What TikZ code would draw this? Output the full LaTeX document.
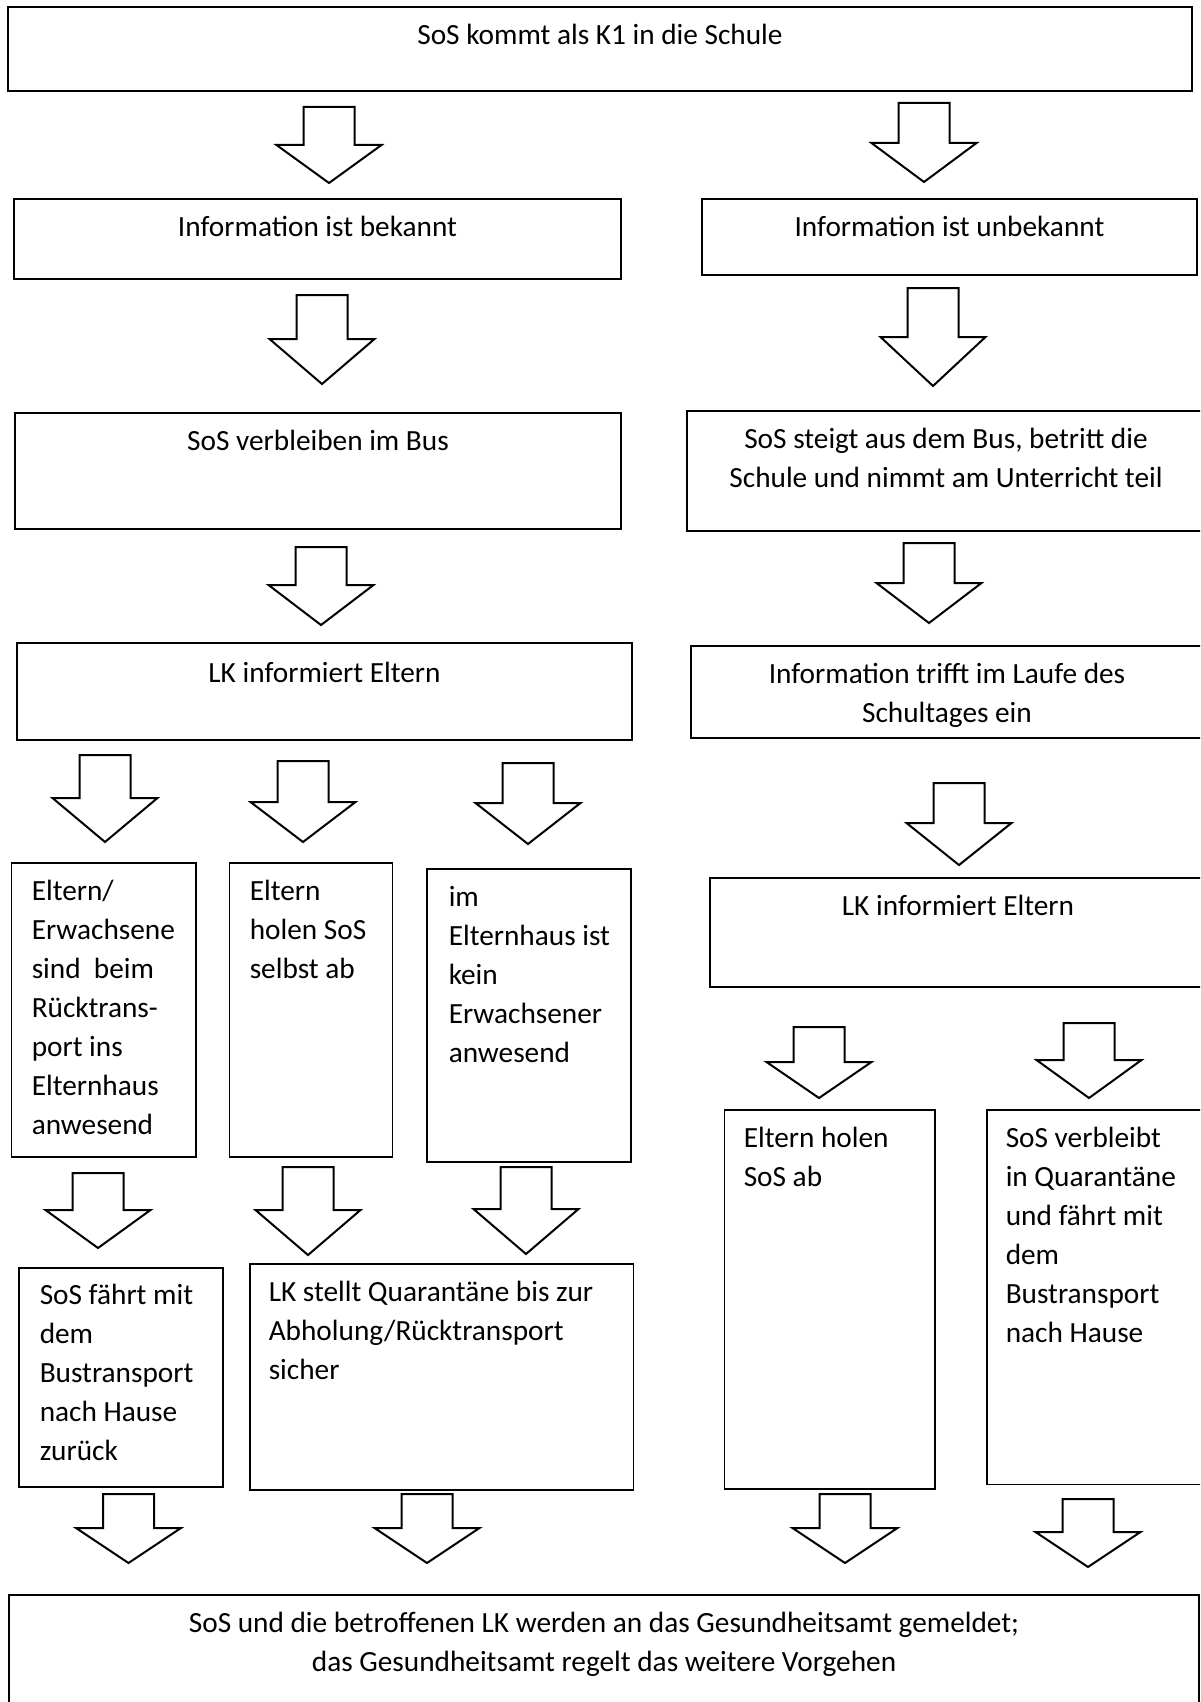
\documentclass[tikz,border=0pt]{standalone}
\usepackage{fontspec}
\setmainfont{Carlito}
\usetikzlibrary{fit,calc}
\tikzset{
  box/.style={draw=black, line width=0.65pt, inner sep=0pt},
  txt/.style={inner sep=0pt, font=\fontsize{14.65}{19.5}\selectfont},
  ctxt/.style={txt, align=center, anchor=north},
  ltxt/.style={txt, align=left, anchor=north west},
  barrow/.style={draw=black, line width=1pt, line join=miter, fill=white}
}
\newcommand\blockarrow[4]{%
  \draw[barrow] ({#1-25.5},{#2}) -- ({#1+25.5},{#2}) -- ({#1+25.5},{#3}) -- ({#1+52.5},{#3})
    -- ({#1},{#4}) -- ({#1-52.5},{#3}) -- ({#1-25.5},{#3}) -- cycle;}
\begin{document}
\begin{tikzpicture}[x=0.5pt,y=-0.5pt]
\useasboundingbox (0,0) rectangle (1200,1702);
\clip (0,0) rectangle (1200,1702);
\fill[white] (0,0) rectangle (1200,1702);
% boxes
\node[box, fit={(8,7) (1192,91)}] (top) {};
\node[box, fit={(14,199) (621,279)}] (info1) {};
\node[box, fit={(702,199) (1197,275)}] (info2) {};
\node[box, fit={(15,413) (621,529)}] (bus1) {};
\node[box, fit={(687,411) (1205,531)}] (bus2) {};
\node[box, fit={(17,643) (632,740)}] (lk1) {};
\node[box, fit={(691,646) (1203,738)}] (trifft) {};
\node[box, fit={(11.5,863) (196,1157)}] (boxA) {};
\node[box, fit={(229.5,863) (392.5,1157)}] (boxB) {};
\node[box, fit={(427,869) (631,1162)}] (boxC) {};
\node[box, fit={(710,878) (1206,987)}] (lk2) {};
\node[box, fit={(724.5,1110) (935,1489)}] (holen) {};
\node[box, fit={(987,1110) (1210,1484.5)}] (verbleibt) {};
\node[box, fit={(19,1268) (223,1487)}] (faehrt) {};
\node[box, fit={(250,1264) (633.5,1490)}] (stellt) {};
\node[box, fit={(9,1595) (1199,1730)}] (final) {};
% texts
\node[ctxt] (ttop) at ($(top.north)+(0,10.7)$) {\strut SoS kommt als K1 in die Schule};
\node[ctxt] (tinfo1) at ($(info1.north)+(0,10.7)$) {\strut Information ist bekannt};
\node[ctxt] (tinfo2) at ($(info2.north)+(0,10.7)$) {\strut Information ist unbekannt};
\node[ctxt] (tbus1) at ($(bus1.north)+(0,10.7)$) {\strut SoS verbleiben im Bus};
\node[ctxt] (tbus2) at ($(bus2.north)+(0,10.7)$) {\strut SoS steigt aus dem Bus, betritt die\\Schule und nimmt am Unterricht teil};
\node[ctxt] (tlk1) at ($(lk1.north)+(0,12)$) {\strut LK informiert Eltern};
\node[ctxt] (ttrifft) at ($(trifft.north)+(0,10.7)$) {\strut Information trifft im Laufe des\\Schultages ein};
\node[ltxt] (tA) at ($(boxA.north west)+(20.5,10.7)$) {\strut Eltern/\\Erwachsene\\sind\ \ beim\\Rücktrans-\\port ins\\Elternhaus\\anwesend};
\node[ltxt] (tB) at ($(boxB.north west)+(20.5,10.7)$) {\strut Eltern\\holen SoS\\selbst ab};
\node[ltxt] (tC) at ($(boxC.north west)+(22,10.7)$) {\strut im\\Elternhaus ist\\kein\\Erwachsener\\anwesend};
\node[ctxt] (tlk2) at ($(lk2.north)+(0,10.7)$) {\strut LK informiert Eltern};
\node[ltxt] (tholen) at ($(holen.north west)+(19.5,10.7)$) {\strut Eltern holen\\SoS ab};
\node[ltxt] (tverbl) at ($(verbleibt.north west)+(19,10.7)$) {\strut SoS verbleibt\\in Quarantäne\\und fährt mit\\dem\\Bustransport\\nach Hause};
\node[ltxt] (tfaehrt) at ($(faehrt.north west)+(21,9)$) {\strut SoS fährt mit\\dem\\Bustransport\\nach Hause\\zurück};
\node[ltxt] (tstellt) at ($(stellt.north west)+(19,10.7)$) {\strut LK stellt Quarantäne bis zur\\Abholung/Rücktransport\\sicher};
\node[ctxt] (tfinal) at ($(final.north)+(0,10.7)$) {\strut SoS und die betroffenen LK werden an das Gesundheitsamt gemeldet;\\das Gesundheitsamt regelt das weitere Vorgehen};
% block arrows
\blockarrow{329}{107}{145}{183}
\blockarrow{924}{103}{143}{182}
\blockarrow{322}{295}{339}{384}
\blockarrow{933}{288}{337}{386}
\blockarrow{321}{547}{585}{625}
\blockarrow{929}{543}{583}{623}
\blockarrow{105}{755}{798}{842}
\blockarrow{303}{761}{802}{842}
\blockarrow{528}{763}{803}{844}
\blockarrow{959}{783}{823}{865}
\blockarrow{819}{1027}{1062}{1098}
\blockarrow{1089}{1023}{1060}{1098}
\blockarrow{98}{1173}{1210}{1248}
\blockarrow{308}{1167}{1210}{1255}
\blockarrow{526}{1167}{1209}{1254}
\blockarrow{128.5}{1494}{1528}{1563}
\blockarrow{427}{1494}{1528}{1563}
\blockarrow{845}{1494}{1528}{1563}
\blockarrow{1088}{1499}{1532}{1567}
\end{tikzpicture}
\end{document}
